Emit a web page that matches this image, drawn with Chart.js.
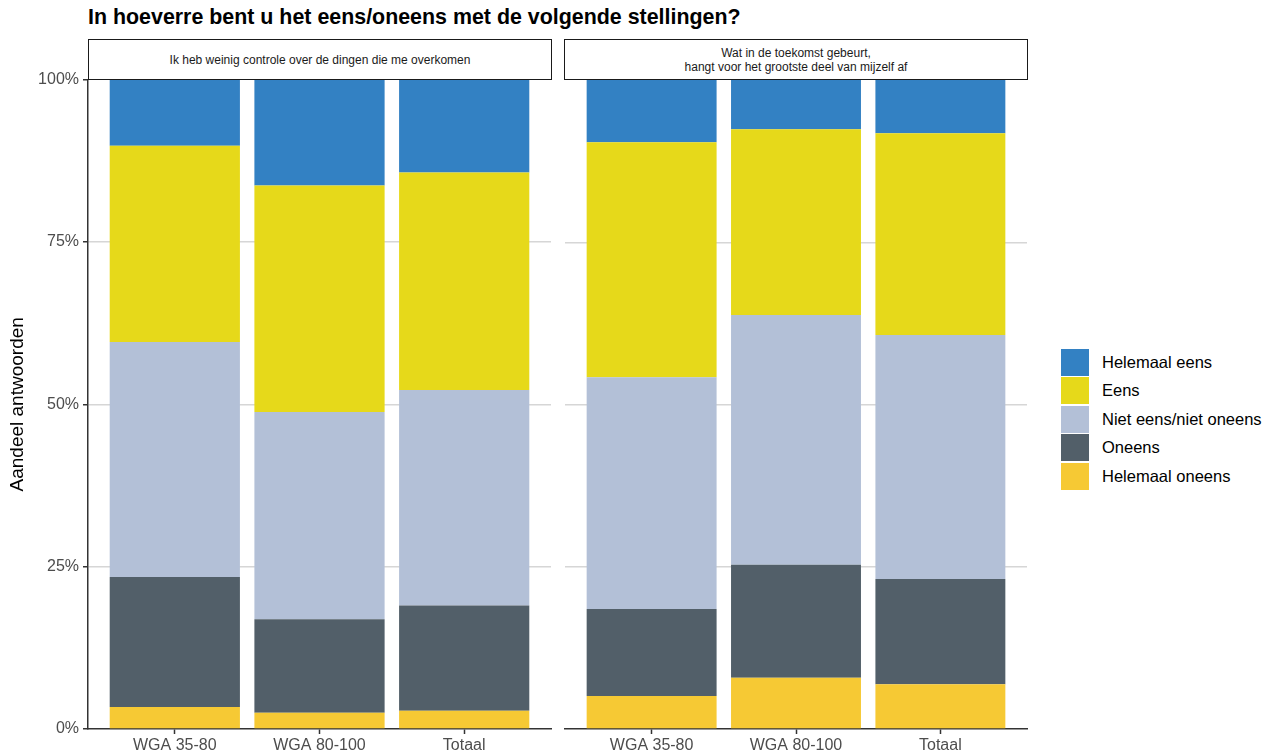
<!DOCTYPE html>
<html>
<head>
<meta charset="utf-8">
<script src="https://cdn.jsdelivr.net/npm/chart.js@4.4.0/dist/chart.umd.min.js"></script>
<style>
  body { margin: 0; background: #fff; font-family: "Liberation Sans", Arial, sans-serif; }
  #wrap { position: relative; width: 1273px; height: 753px; overflow: hidden; }
  #title { position: absolute; left: 88px; top: 4px; font-size: 21.4px; font-weight: bold; color: #000; line-height: 26px; white-space: nowrap; }
  .strip { position: absolute; top: 39px; height: 41px; box-sizing: border-box; border: 1.5px solid #1a1a1a; background: #fff;
    display: flex; align-items: center; justify-content: center; text-align: center; font-size: 12px; line-height: 14px; color: #1a1a1a; }
  canvas { position: absolute; }
  #legend { position: absolute; left: 1061px; top: 348px; }
  .row { display: flex; align-items: center; height: 28.5px; }
  .key { width: 28px; height: 27px; margin-right: 13px; }
  .lab { font-size: 16.5px; color: #000; }
</style>
</head>
<body>
<div id="wrap">
  <div id="title">In hoeverre bent u het eens/oneens met de volgende stellingen?</div>
  <canvas id="chart1" width="556" height="687" style="left:0px;top:66px;"></canvas>
  <canvas id="chart2" width="472" height="683" style="left:560px;top:70px;"></canvas>
  <div class="strip" id="strip1" style="left:88px;width:464px;"></div>
  <div class="strip" id="strip2" style="left:564px;width:464px;"></div>
  <div id="legend"></div>
</div>
<script>
const categories = ['WGA 35-80', 'WGA 80-100', 'Totaal'];
const statements = ['Ik heb weinig controle over de dingen die me overkomen', 'Wat in de toekomst gebeurt,<br>hangt voor het grootste deel van mijzelf af'];
const answers = ['Helemaal oneens', 'Oneens', 'Niet eens/niet oneens', 'Eens', 'Helemaal eens'];
const colors = ['#f6c934', '#525f69', '#b3c0d7', '#e6d91a', '#3381c3'];
const yTicks = [0, 25, 50, 75, 100];

// stelling 1 (percentages per groep)
const s1HelemaalOneens = [3.4, 2.5, 2.8];
const s1Oneens = [20.0, 14.4, 16.2];
const s1Neutraal = [36.2, 31.9, 33.2];
const s1Eens = [30.2, 34.9, 33.5];
const s1HelemaalEens = [10.2, 16.3, 14.3];

// stelling 2
const s2HelemaalOneens = [5.1, 7.9, 6.9];
const s2Oneens = [13.4, 17.4, 16.2];
const s2Neutraal = [35.7, 38.5, 37.6];
const s2Eens = [36.2, 28.6, 31.1];
const s2HelemaalEens = [9.6, 7.6, 8.2];

const panelData = [
  [s1HelemaalOneens, s1Oneens, s1Neutraal, s1Eens, s1HelemaalEens],
  [s2HelemaalOneens, s2Oneens, s2Neutraal, s2Eens, s2HelemaalEens]
];

document.getElementById('strip1').innerHTML = statements[0];
document.getElementById('strip2').innerHTML = statements[1];

const legend = document.getElementById('legend');
for (let i = answers.length - 1; i >= 0; i--) {
  legend.innerHTML += `<div class="row"><div class="key" style="background:${colors[i]}"></div><div class="lab">${answers[i]}</div></div>`;
}

const tickFont = { family: "'Liberation Sans', Arial, sans-serif", size: 16 };

function makePanel(canvasId, series, first) {
  const ctx = document.getElementById(canvasId).getContext('2d');
  new Chart(ctx, {
    type: 'bar',
    data: {
      datasets: series.map((vals, i) => ({
        label: answers[i],
        data: vals.map((v, j) => ({ x: j + 1, y: v })),
        backgroundColor: colors[i],
        borderWidth: 0,
        categoryPercentage: 1,
        barPercentage: 0.9
      }))
    },
    options: {
      responsive: false,
      animation: false,
      layout: { padding: { top: first ? 0 : 10, right: 5, left: 0, bottom: 0 } },
      plugins: { legend: { display: false }, tooltip: { enabled: false } },
      scales: {
        x: {
          type: 'linear',
          stacked: true,
          offset: false,
          min: 0.4,
          max: 3.6,
          afterBuildTicks: (scale) => { scale.ticks = categories.map((c, i) => ({ value: i + 1 })); },
          afterFit: (scale) => { scale.height = 24; },
          ticks: {
            autoSkip: false, maxRotation: 0, padding: 2,
            color: '#4d4d4d', font: tickFont,
            callback: (v) => categories[v - 1]
          },
          grid: { offset: false, drawOnChartArea: false, drawTicks: true, tickLength: 5, tickColor: '#333', tickWidth: 1.5 },
          border: { display: true, color: '#333', width: 1.5 }
        },
        y: {
          stacked: true,
          min: 0,
          max: 100,
          afterBuildTicks: (scale) => { scale.ticks = yTicks.map(v => ({ value: v })); },
          afterFit: (scale) => { scale.width = first ? 88 : 5; },
          ticks: {
            display: first, padding: 4,
            color: '#4d4d4d', font: tickFont,
            callback: (v) => v + '%'
          },
          grid: {
            color: (c) => (c.tick && (c.tick.value === 0 || c.tick.value === 100)) ? 'rgba(0,0,0,0)' : '#d6d6d6',
            lineWidth: 1.5,
            drawTicks: first, tickLength: 5, tickColor: '#333', tickWidth: 1.5
          },
          border: { display: first, color: '#333', width: 1.5 },
          title: {
            display: first,
            text: 'Aandeel antwoorden',
            color: '#000',
            font: { family: "'Liberation Sans', Arial, sans-serif", size: 19 },
            padding: { top: 6, bottom: 0 }
          }
        }
      }
    }
  });
}

makePanel('chart1', panelData[0], true);
makePanel('chart2', panelData[1], false);
</script>
</body>
</html>
